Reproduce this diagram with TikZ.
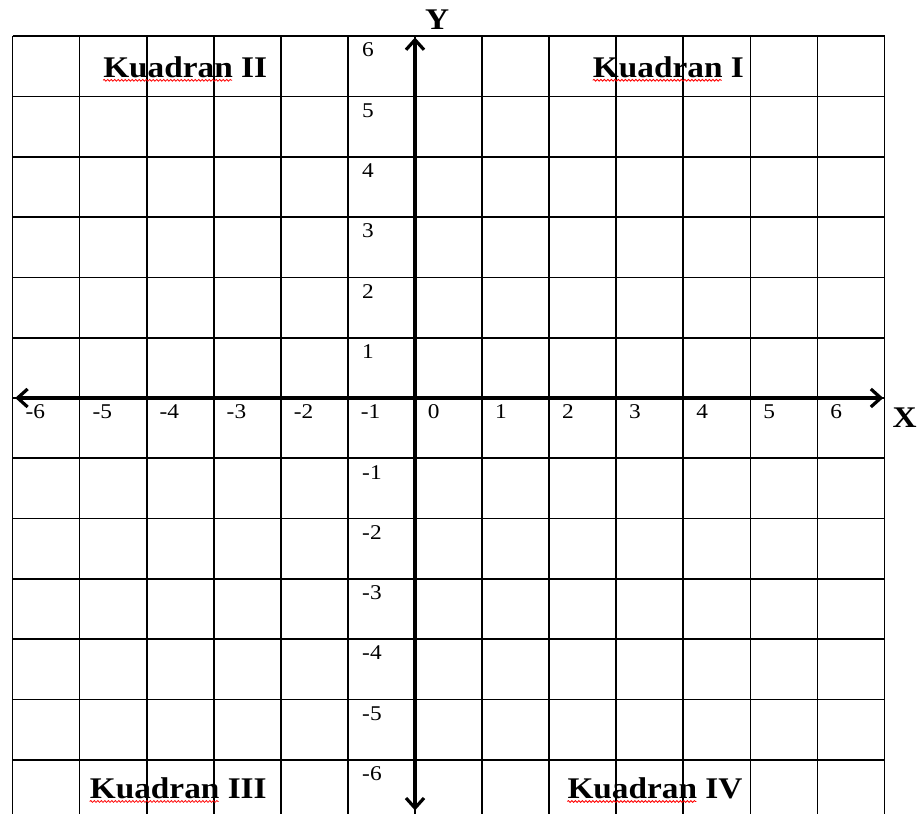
\documentclass[tikz,border=0pt]{standalone}
\usepackage{fontspec}
\setmainfont{Liberation Serif}
\usetikzlibrary{arrows.meta,decorations.pathmorphing}

\begin{document}
\begin{tikzpicture}[>={Straight Barb[length=10pt,width=18pt,line width=3.2pt]}, x=67.08pt, y=60.3pt,
		num/.style={font=\fontsize{21}{21}\selectfont, inner sep=0pt, anchor=west, xscale=1.11, transform shape},
		kuad/.style={font=\fontsize{30}{30}\selectfont\bfseries, inner sep=0pt, anchor=base west, xscale=1.11, transform shape},
		axlab/.style={font=\fontsize{30}{30}\selectfont\bfseries, inner sep=0pt, xscale=1.11, transform shape},
		wavy/.style={red, line width=0.8pt, decorate, decoration={snake, amplitude=0.9pt, segment length=3.5pt}}]
		\useasboundingbox (-6.187,-6.899) rectangle (7.588,6.60);
		% grid
		\foreach \i in {-6,...,7} \draw[line width=1.7pt] (\i,6) -- (\i,-7);
		\foreach \j in {-6,...,6} \draw[line width=1.7pt] (-6,\j) -- (7,\j);
		% axes
		\coordinate (xl) at (-5.96,0);
		\coordinate (xr) at (6.98,0);
		\coordinate (yt) at (0,5.98);
		\coordinate (yb) at (0,-6.84);
		\draw[<->, line width=3.6pt] (xl) -- (xr);
		\draw[<->, line width=3.6pt] (yb) -- (yt);
		\node[axlab] (xlab) at (7.30,-0.32) {X};
		\node[axlab] (ylab) at (0.33,6.27) {Y};
		% numbers
		\foreach \n in {-6,...,6} \node[num] (x\n) at (\n+0.19,-0.22) {\n};
		\foreach \n in {6,5,4,3,2,1,-1,-2,-3,-4,-5,-6} \node[num] (y\n) at (-0.79,\n-0.23) {\n};
		% quadrants
		\node[kuad] (q2) at (-4.65,5.31) {Kuadran II};
		\node[kuad] (q1) at (2.65,5.31) {Kuadran I};
		\node[kuad] (q3) at (-4.85,-6.65) {Kuadran III};
		\node[kuad] (q4) at (2.27,-6.65) {Kuadran IV};
		\foreach \q in {q1,q2,q3,q4}
			\draw[wavy] ([yshift=-2.5pt]\q.base west) -- ([xshift=129pt,yshift=-2.5pt]\q.base west);
	\end{tikzpicture}
\end{document}
